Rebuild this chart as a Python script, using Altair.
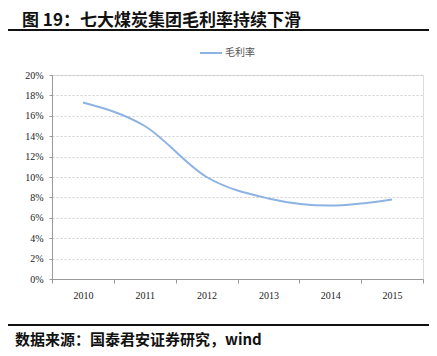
import altair as alt
import pandas as pd

years = ["2010", "2011", "2012", "2013", "2014", "2015"]
margin = [0.173, 0.150, 0.100, 0.079, 0.072, 0.078]

title_text = "图 19：七大煤炭集团毛利率持续下滑"
source_text = "数据来源：国泰君安证券研究，wind"
legend_label = "毛利率"

df = pd.DataFrame({"year": years, "margin": margin})

W, H = 371, 204
LINE_COLOR = "#8DB3E2"
CJK = "Noto Sans CJK SC"

x = alt.X(
    "year:N",
    sort=years,
    scale=alt.Scale(type="band", paddingInner=0, paddingOuter=0),
    bandPosition=0.5,
    axis=alt.Axis(
        title=None, tickBand="extent", labelFont="Liberation Serif",
        labelFontSize=10, labelColor="#222", labelAngle=0, labelPadding=7,
        domainColor="#999", tickColor="#999", tickSize=4, grid=False,
    ),
)
y = alt.Y(
    "margin:Q",
    scale=alt.Scale(domain=[0, 0.2]),
    axis=alt.Axis(
        title=None, format=".0%", values=[i / 50 for i in range(11)],
        labelFont="Liberation Serif", labelFontSize=10, labelColor="#222",
        labelPadding=6, domainColor="#999", tickColor="#999", tickSize=3,
        grid=True, gridColor="#c4c4c4", gridDash=[2, 2], gridWidth=0.8,
    ),
)

line = alt.Chart(df).mark_line(
    interpolate="monotone", color=LINE_COLOR, strokeWidth=2
).encode(x=x, y=y)

deco = pd.DataFrame({"t": [title_text]})
title = alt.Chart(deco).mark_text(
    align="left", baseline="middle", font=CJK, fontSize=17, fontWeight="bold",
    color="#111",
).encode(x=alt.value(-30), y=alt.value(-54), text="t:N")

top_rule = alt.Chart(deco).mark_rule(color="#111", strokeWidth=2).encode(
    x=alt.value(-50), x2=alt.value(W + 13), y=alt.value(-45)
)

leg_rule = alt.Chart(deco).mark_rule(color=LINE_COLOR, strokeWidth=2).encode(
    x=alt.value(148), x2=alt.value(170), y=alt.value(-22)
)
leg_text = alt.Chart(pd.DataFrame({"t": [legend_label]})).mark_text(
    align="left", baseline="middle", font=CJK, fontSize=10, color="#555",
).encode(x=alt.value(173), y=alt.value(-22), text="t:N")

bot_rule = alt.Chart(deco).mark_rule(color="#111", strokeWidth=2).encode(
    x=alt.value(-52), x2=alt.value(W + 14), y=alt.value(H + 46)
)
source = alt.Chart(pd.DataFrame({"t": [source_text]})).mark_text(
    align="left", baseline="middle", font=CJK, fontSize=15, fontWeight="bold",
    color="#111",
).encode(x=alt.value(-37), y=alt.value(H + 61), text="t:N")

chart = alt.layer(line, title, top_rule, leg_rule, leg_text, bot_rule, source).properties(
    width=W, height=H,
    autosize=alt.AutoSizeParams(type="none"),
    padding={"left": 44, "top": 67, "right": 6, "bottom": 69},
).configure_view(stroke=None).configure(background="white")

chart.save("out.html", embed_options={"renderer": "svg", "actions": False})
